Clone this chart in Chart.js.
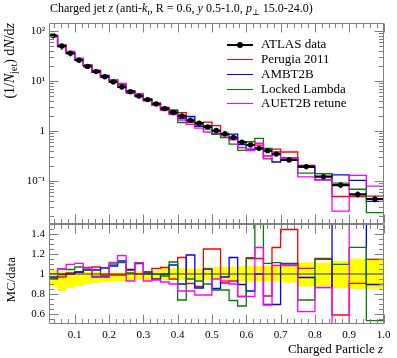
<!DOCTYPE html>
<html><head><meta charset="utf-8">
<script src="https://cdn.jsdelivr.net/npm/chart.js@4.4.0/dist/chart.umd.min.js"></script>
<style>
html,body{margin:0;padding:0;background:#fff;}
#wrap{position:relative;width:397px;height:358px;overflow:hidden;font-family:"Liberation Serif","DejaVu Serif",serif;color:#000;}
canvas{position:absolute;left:0;top:0;}
.t{position:absolute;white-space:nowrap;line-height:1;}
sub{font-size:70%;vertical-align:-3px;line-height:0;}
.rot{transform-origin:0 0;transform:rotate(-90deg) translate(-100%,-50%);}
.lg{position:absolute;height:0;left:0;}
.lg .ln{position:absolute;left:227px;width:26px;height:0;top:0;border-top:1px solid;}
.lg .tx{position:absolute;left:261px;top:-7px;font-size:13px;white-space:nowrap;line-height:1;}
.lg .dot{position:absolute;left:237px;top:-2.5px;width:6px;height:6px;border-radius:3px;background:#000;}
</style></head><body>
<div id="wrap">
<canvas id="topc" width="397" height="358"></canvas>
<canvas id="ratc" width="397" height="358"></canvas>
<div class="t" style="left:50px;top:2px;font-size:12px;">Charged jet <i>z</i> (anti-<i>k</i><sub><i>t</i></sub>, R = 0.6, <i>y</i> 0.5-1.0, <i>p</i><sub>⊥</sub> 15.0-24.0)</div>
<div class="t rot" style="left:10px;top:23px;font-size:14px;">(1/<i>N</i><sub>jet</sub>) d<i>N</i>/d<i>z</i></div>
<div class="t rot" style="left:10px;top:257px;font-size:13px;">MC/data</div>
<div class="t" style="right:14px;top:342px;font-size:13px;">Charged Particle <i>z</i></div>
<div class="lg" style="top:44px"><div class="ln" style="border-top:2px solid #000;top:-0.5px"></div><div class="dot"></div><div class="tx">ATLAS data</div></div>
<div class="lg" style="top:59px"><div class="ln" style="border-top-color:#ff0000"></div><div class="tx">Perugia 2011</div></div>
<div class="lg" style="top:74px"><div class="ln" style="border-top-color:#0000ff"></div><div class="tx">AMBT2B</div></div>
<div class="lg" style="top:89px"><div class="ln" style="border-top-color:#008000"></div><div class="tx">Locked Lambda</div></div>
<div class="lg" style="top:103px"><div class="ln" style="border-top-color:#ff00ff"></div><div class="tx">AUET2B retune</div></div>
</div>
<script>
// ---- data ----
const binEdges = [0.025,0.05,0.075,0.1,0.125,0.15,0.175,0.2,0.225,0.25,0.275,0.3,0.325,0.35,0.375,0.4,0.425,0.45,0.475,0.5,0.525,0.55,0.575,0.6,0.625,0.65,0.675,0.7,0.75,0.8,0.85,0.9,0.95,1.0];
const atlasData = [81,50,35.8,26,19.6,15.4,12.2,9.6,7.6,6.1,5.0,4.25,3.47,2.8,2.35,2.0,1.64,1.44,1.21,1.02,0.88,0.74,0.6,0.525,0.45,0.405,0.345,0.263,0.194,0.122,0.083,0.054,0.0437];
// data uncertainty band (relative, as drawn in the ratio panel)
const bandLow  = [0.87,0.83,0.86,0.88,0.9,0.91,0.92,0.925,0.93,0.935,0.94,0.94,0.94,0.94,0.94,0.94,0.94,0.94,0.94,0.94,0.94,0.94,0.925,0.925,0.925,0.925,0.925,0.915,0.875,0.88,0.86,0.85,0.85];
const bandHigh = [1.04,1.025,1.025,1.025,1.02,1.02,1.015,1.015,1.015,1.025,1.025,1.03,1.03,1.055,1.055,1.055,1.055,1.055,1.07,1.07,1.07,1.07,1.08,1.08,1.08,1.08,1.08,1.095,1.115,1.11,1.13,1.155,1.155];
// MC predictions, (1/Njet) dN/dz
const perugiaMC = [77.0,48.5,36.2,26.5,20.9,16.5,12.1,9.50,7.52,6.34,5.0,4.25,3.66,2.98,2.23,2.33,1.48,1.26,1.51,1.28,0.80,0.69,0.465,0.606,0.520,0.316,0.436,0.380,0.205,0.140,0.049,0.049,0.050];
const ambtMC = [78.6,49.8,35.8,26.5,20.4,16.0,12.9,10.4,8.59,6.37,5.53,4.34,3.30,2.80,2.56,1.80,1.95,1.24,1.27,0.872,0.854,0.862,0.537,0.436,0.45,0.281,0.240,0.291,0.187,0.105,0.133,0.103,0.0391];
const lockedMC = [77.8,52.5,37.4,27.8,20.4,15.0,11.9,10.6,8.47,6.16,5.55,4.27,3.47,2.74,2.63,1.48,1.56,1.34,1.09,0.857,0.739,0.544,0.408,0.611,0.711,0.448,0.384,0.289,0.144,0.141,0.091,0.0684,0.0233];
const auetMC = [81,52.5,39.3,28.8,20.8,14.9,11.8,10.7,8.99,5.67,5.57,3.95,3.26,2.58,2.12,1.66,1.36,1.14,0.956,0.969,0.818,0.666,0.465,0.407,0.569,0.279,0.374,0.285,0.121,0.106,0.0249,0.130,0.0787];
// MC / data
const perugiaRatio = [0.95,0.97,1.01,1.02,1.065,1.07,0.99,0.99,0.99,1.04,1.0,1.0,1.055,1.065,0.95,1.165,0.905,0.875,1.25,1.25,0.91,0.93,0.775,1.155,1.155,0.78,1.265,1.445,1.057,1.147,0.59,0.907,1.147];
const ambtRatio = [0.97,0.995,1.0,1.02,1.04,1.04,1.06,1.08,1.13,1.045,1.105,1.02,0.95,1.0,1.09,0.9,1.19,0.86,1.05,0.855,0.97,1.165,0.895,0.83,1.0,0.695,0.695,1.107,0.965,0.863,1.6,1.9,0.895];
const lockedRatio = [0.96,1.05,1.045,1.07,1.04,0.975,0.975,1.1,1.115,1.01,1.11,1.005,1.0,0.98,1.12,0.74,0.95,0.93,0.9,0.84,0.84,0.735,0.68,1.163,1.58,1.107,1.113,1.1,0.74,1.157,1.097,1.267,0.533];
const auetRatio = [1.0,1.05,1.097,1.107,1.06,0.967,0.967,1.117,1.183,0.93,1.113,0.93,0.94,0.92,0.9,0.83,0.83,0.79,0.79,0.95,0.93,0.9,0.775,0.775,1.265,0.69,1.085,1.085,0.623,0.867,0.3,2.4,1.8];
const xTickLabels = [0.1,0.2,0.3,0.4,0.5,0.6,0.7,0.8,0.9,1.0];
const yTopTicks = [0.1,1,10,100];
const yRatioTicks = [0.6,0.8,1.0,1.2,1.4];

// ---- helpers ----
const centers = binEdges.slice(0,-1).map((e,i)=>(e+binEdges[i+1])/2);
function steps(vals){ const p=[{x:binEdges[0],y:vals[0]}]; vals.forEach((v,i)=>p.push({x:binEdges[i+1],y:v})); return p; }
function hbars(vals){ const p=[]; vals.forEach((v,i)=>{p.push({x:binEdges[i],y:v},{x:binEdges[i+1],y:v},{x:binEdges[i+1],y:null});}); return p; }
function vbars(vals,lo,hi){ const p=[]; vals.forEach((v,i)=>{p.push({x:centers[i],y:v*lo[i]},{x:centers[i],y:v*hi[i]},{x:centers[i],y:null});}); return p; }
const xMinor=[]; for(let k=2;k<=49;k++){ if(k%5) xMinor.push(k*0.02); }
const yTopMinor=[]; [0.01,0.1,1,10,100].forEach(d=>{for(let m=2;m<=9;m++){const v=m*d; if(v>0.0138&&v<144) yTopMinor.push(v);}});
const yRatMinor=[]; for(let k=11;k<=29;k++){ if(k%4!==0) yRatMinor.push(k*0.05); }

const frameTicks = {
  id:'frameTicks',
  afterDatasetsDraw(chart,args,o){
    const {ctx,chartArea:a,scales:{x,y}}=chart;
    ctx.save(); ctx.strokeStyle='#808080'; ctx.lineWidth=1; ctx.beginPath();
    const L=Math.round(a.left)+0.5,R=Math.round(a.right)-0.5,T=Math.round(a.top)+0.5,B=Math.round(a.bottom)-0.5;
    ctx.rect(L,T,R-L,B-T);
    const xt=(v,l)=>{const p=Math.round(x.getPixelForValue(v))+0.5; ctx.moveTo(p,B);ctx.lineTo(p,B-l);ctx.moveTo(p,T);ctx.lineTo(p,T+l);};
    const yt=(v,l)=>{const p=Math.round(y.getPixelForValue(v))+0.5; ctx.moveTo(L,p);ctx.lineTo(L+l,p);ctx.moveTo(R,p);ctx.lineTo(R-l,p);};
    o.xMajor.forEach(v=>xt(v,9)); o.xMinor.forEach(v=>xt(v,4.5));
    o.yMajor.forEach(v=>yt(v,9)); o.yMinor.forEach(v=>yt(v,4.5));
    ctx.stroke(); ctx.restore();
  }
};

Chart.defaults.font.family = "'Liberation Serif', serif";
Chart.defaults.color = '#000';
// vertical step at the bin's left edge, then horizontal across the bin
const lineDs = (label,data,color)=>({label,data:steps(data),borderColor:color,borderWidth:1.3,pointRadius:0,stepped:'after',fill:false});

new Chart(document.getElementById('topc'),{
  type:'line',
  data:{datasets:[
    {label:'ATLAS data',data:centers.map((c,i)=>({x:c,y:atlasData[i]})),showLine:false,pointRadius:2.7,pointBackgroundColor:'#000',pointBorderWidth:0},
    {label:'data bins',data:hbars(atlasData),borderColor:'#000',borderWidth:2.2,pointRadius:0,spanGaps:false},
    {label:'data err',data:vbars(atlasData,bandLow,bandHigh),borderColor:'#000',borderWidth:1,pointRadius:0,spanGaps:false},
    lineDs('AUET2B retune',auetMC,'#ff00ff'),
    lineDs('Locked Lambda',lockedMC,'#008000'),
    lineDs('AMBT2B',ambtMC,'#0000ff'),
    lineDs('Perugia 2011',perugiaMC,'#ff0000'),
  ]},
  options:{
    responsive:false,animation:false,devicePixelRatio:1,
    layout:{padding:{left:0,right:13.5,top:23,bottom:134}},
    plugins:{legend:{display:false},tooltip:{enabled:false},
      frameTicks:{xMajor:xTickLabels,xMinor:xMinor,yMajor:yTopTicks,yMinor:yTopMinor}},
    scales:{
      x:{type:'linear',min:0.025,max:1.0,display:false},
      y:{type:'logarithmic',min:Math.pow(10,-1.86),max:Math.pow(10,2.16),
        afterBuildTicks:s=>{s.ticks=yTopTicks.map(v=>({value:v}));},
        afterFit:s=>{s.width=49;},
        grid:{display:false,drawTicks:false},border:{display:false},
        ticks:{padding:4,font:{size:11},callback:v=>({100:'10²',10:'10¹',1:'1',0.1:'10⁻¹'}[v]||'')}}
    }
  },
  plugins:[frameTicks]
});

new Chart(document.getElementById('ratc'),{
  type:'line',
  data:{datasets:[
    {label:'data',data:[{x:0.025,y:1},{x:1.0,y:1}],borderColor:'rgba(60,60,60,0.7)',borderWidth:1.5,pointRadius:0},
    lineDs('AUET2B retune',auetRatio,'#ff00ff'),
    lineDs('Locked Lambda',lockedRatio,'#008000'),
    lineDs('AMBT2B',ambtRatio,'#0000ff'),
    lineDs('Perugia 2011',perugiaRatio,'#ff0000'),
    {label:'band low',data:steps(bandLow),borderWidth:0,pointRadius:0,stepped:'after',fill:false,order:10},
    {label:'band high',data:steps(bandHigh),borderWidth:0,pointRadius:0,stepped:'after',fill:'-1',backgroundColor:'#ffff00',order:10},
  ]},
  options:{
    responsive:false,animation:false,devicePixelRatio:1,
    layout:{padding:{left:0,right:13.5,top:224,bottom:0}},
    plugins:{legend:{display:false},tooltip:{enabled:false},
      frameTicks:{xMajor:xTickLabels,xMinor:xMinor,yMajor:yRatioTicks,yMinor:yRatMinor}},
    scales:{
      x:{type:'linear',min:0.025,max:1.0,
        afterBuildTicks:s=>{s.ticks=xTickLabels.map(v=>({value:v}));},
        afterFit:s=>{s.height=34;},
        grid:{display:false,drawTicks:false},border:{display:false},
        ticks:{padding:5,maxRotation:0,autoSkip:false,font:{size:11},callback:v=>v.toFixed(1)}},
      y:{type:'linear',min:0.5,max:1.5,
        afterBuildTicks:s=>{s.ticks=yRatioTicks.map(v=>({value:v}));},
        afterFit:s=>{s.width=49;},
        grid:{display:false,drawTicks:false},border:{display:false},
        ticks:{padding:4,font:{size:11},callback:v=>(Math.abs(v-1)<1e-9?'1':String(Math.round(v*10)/10))}}
    }
  },
  plugins:[frameTicks]
});
</script>
</body></html>
